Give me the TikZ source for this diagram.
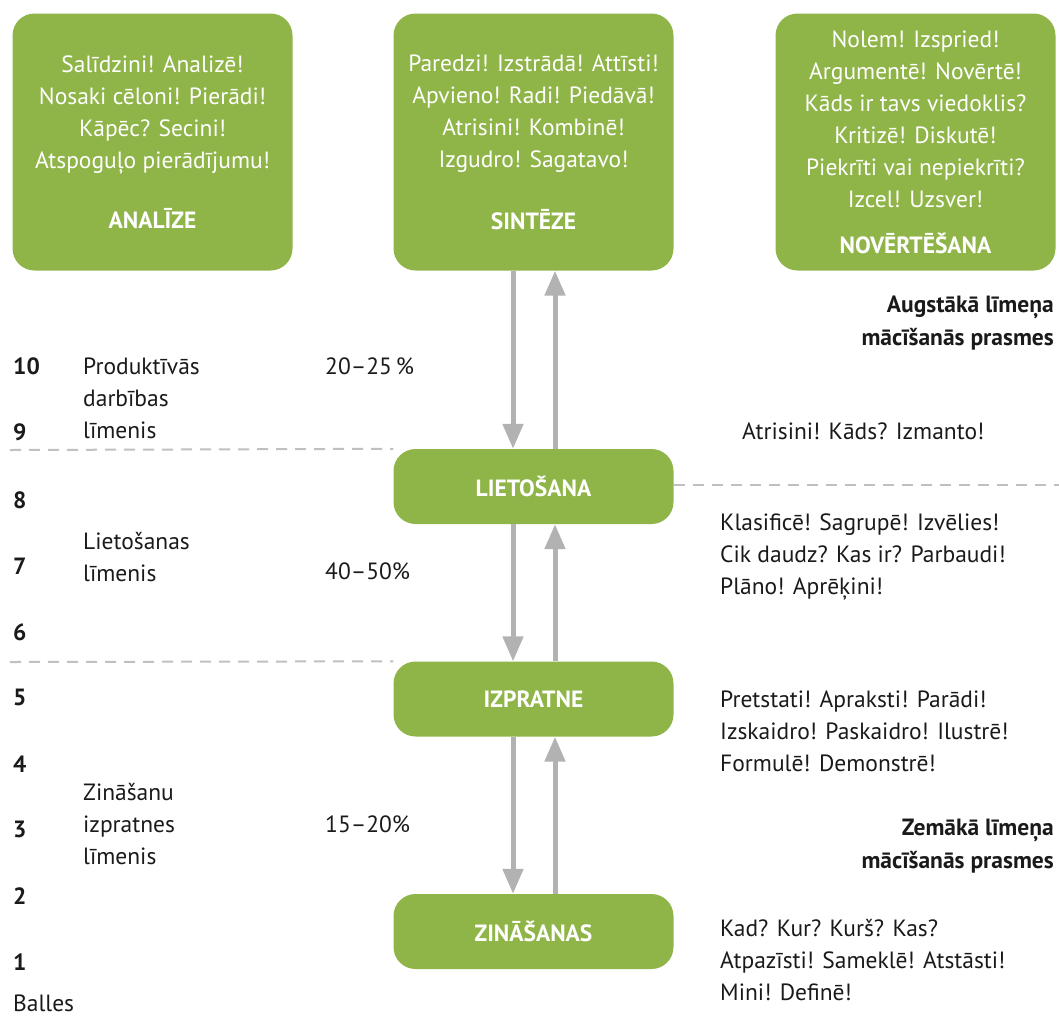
\documentclass[tikz,border=0pt]{standalone}
\usepackage{fontspec}
\setmainfont{PT Sans}
\usepackage{tikz}
\usetikzlibrary{positioning,arrows.meta}
\definecolor{leaf}{RGB}{143,180,72}
\definecolor{shaft}{RGB}{178,178,178}
\definecolor{dashgray}{RGB}{192,192,192}
\definecolor{ink}{RGB}{26,26,26}

\begin{document}
\begin{tikzpicture}[
    x=1pt, y=-1pt,
    every node/.style={font=\fontsize{23.5}{32}\selectfont, text=ink, inner sep=0pt},
    greenbox/.style={fill=leaf, rounded corners=22pt, text=white, align=center, minimum width=280pt},
    bigbox/.style={greenbox, minimum height=257pt},
    levelbox/.style={greenbox, minimum height=75pt, font=\fontsize{23.5}{32}\selectfont\bfseries},
    score/.style={anchor=west, font=\fontsize{23.5}{32}\selectfont\bfseries},
    lvl/.style={anchor=west, align=left},
    verbs/.style={anchor=west, align=left},
    skill/.style={anchor=east, align=right, font=\fontsize{23.5}{33}\selectfont\bfseries},
    arr/.style={-{Triangle[width=20pt,length=25pt]}, draw=shaft, line width=5pt},
    border/.style={draw=dashgray, line width=2pt, dash pattern=on 11pt off 8pt}
  ]
    \useasboundingbox (0,0) rectangle (1059,1018);
    % top row
    \node[bigbox] (analize) at (152.5,142) {Salīdzini! Analizē!\\Nosaki cēloni! Pierādi!\\Kāpēc? Secini!\\Atspoguļo pierādījumu!\\[28pt]\textbf{ANALĪZE}};
    \node[bigbox] (sinteze) at (533.5,142) {Paredzi! Izstrādā! Attīsti!\\Apvieno! Radi! Piedāvā!\\Atrisini! Kombinē!\\Izgudro! Sagatavo!\\[30pt]\textbf{SINTĒZE}};
    \node[bigbox] (novertesana) at (915.5,142) {Nolem! Izspried!\\Argumentē! Novērtē!\\Kāds ir tavs viedoklis?\\Kritizē! Diskutē!\\Piekrīti vai nepiekrīti?\\Izcel! Uzsver!\\[14pt]\textbf{NOVĒRTĒŠANA}};
    % levels
    \node[levelbox] (lietosana) at (533.5,486.5) {LIETOŠANA};
    \node[levelbox] (izpratne) at (533.5,699) {IZPRATNE};
    \node[levelbox] (zinasanas) at (533.5,931.5) {ZINĀŠANAS};
    \foreach \a/\b in {sinteze/lietosana, lietosana/izpratne, izpratne/zinasanas} {
      \draw[arr] ([xshift=-20.5pt]\a.south) -- ([xshift=-20.5pt]\b.north);
      \draw[arr] ([xshift=21.5pt]\b.north) -- ([xshift=21.5pt]\a.south);
    }
    % dashed borders
    \coordinate (cutA) at (10,450);
    \coordinate (cutB) at (10,662);
    \coordinate (cutC) at (1059,485);
    \draw[border] (cutA) -- (lietosana.north west);
    \draw[border] (cutB) -- (izpratne.north west);
    \draw[border] (lietosana.east |- cutC) -- (cutC);
    % scores
    \foreach \n/\y in {10/366, 9/432, 8/500, 7/566, 6/632, 5/697, 4/764, 3/829, 2/896, 1/962}
      \node[score] (s\n) at (13,\y) {\n};
    \node[anchor=west] (balles) at (13,1003) {Balles};
    % level names and shares
    \node[lvl] (prod) at (83,398) {Produktīvās\\darbības\\līmenis};
    \node[lvl] (liet) at (83,557) {Lietošanas\\līmenis};
    \node[lvl] (zin) at (83,824) {Zināšanu\\izpratnes\\līmenis};
    \node[anchor=west] (pA) at (325,366) {20–25\hspace{4pt}\%};
    \node[anchor=west] (pB) at (325,571) {40–50\%};
    \node[anchor=west] (pC) at (325,824) {15–20\%};
    % verbs on the right
    \node[verbs] (vA) at (742,431) {Atrisini! Kāds? Izmanto!};
    \node[verbs] (vB) at (720,557) {Klasificē! Sagrupē! Izvēlies!\\Cik daudz? Kas ir? Parbaudi!\\Plāno! Aprēķini!};
    \node[verbs] (vC) at (720,731) {Pretstati! Apraksti! Parādi!\\Izskaidro! Paskaidro! Ilustrē!\\Formulē! Demonstrē!};
    \node[verbs] (vD) at (720,960) {Kad? Kur? Kurš? Kas?\\Atpazīsti! Sameklē! Atstāsti!\\Mini! Definē!};
    \node[skill] (high) at (1054,323) {Augstākā līmeņa\\mācīšanās prasmes};
    \node[skill] (low) at (1054,846) {Zemākā līmeņa\\mācīšanās prasmes};
  \end{tikzpicture}
\end{document}
